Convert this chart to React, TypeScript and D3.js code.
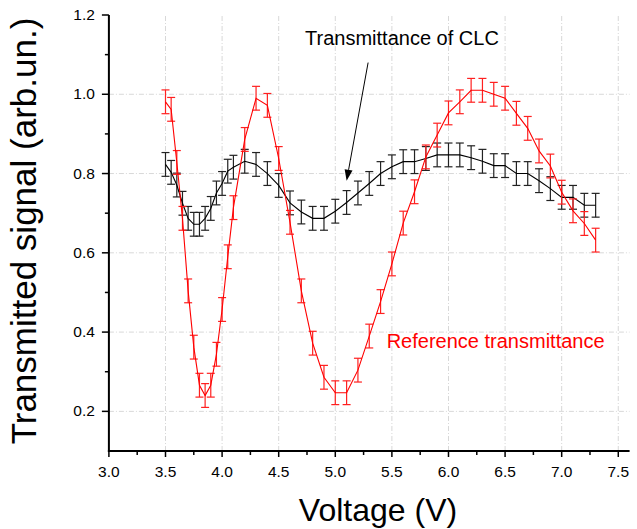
import React from "react";
import * as d3 from "d3";

const voltages = [
  3.5, 3.55, 3.6, 3.65, 3.7, 3.75, 3.8, 3.85, 3.9, 3.95, 4.0, 4.05, 4.1,
  4.2, 4.3, 4.4, 4.5, 4.6, 4.7, 4.8, 4.9, 5.0, 5.1, 5.2, 5.3, 5.4, 5.5,
  5.6, 5.7, 5.8, 5.9, 6.0, 6.1, 6.2, 6.3, 6.4, 6.5, 6.6, 6.7, 6.8, 6.9,
  7.0, 7.1, 7.2, 7.3,
];

const clcSignal = [
  0.823, 0.803, 0.771, 0.725, 0.687, 0.672, 0.672, 0.687, 0.712, 0.751, 0.775, 0.806, 0.816,
  0.831, 0.823, 0.8, 0.77, 0.726, 0.703, 0.687, 0.687, 0.705, 0.727, 0.751, 0.775, 0.8, 0.817,
  0.83, 0.83, 0.838, 0.847, 0.847, 0.847, 0.84, 0.831, 0.82, 0.82, 0.8, 0.8, 0.782, 0.762,
  0.74, 0.74, 0.72, 0.72,
];

const refSignal = [
  0.981, 0.962, 0.828, 0.687, 0.504, 0.362, 0.266, 0.24, 0.266, 0.344, 0.457, 0.59, 0.714,
  0.886, 0.99, 0.972, 0.838, 0.677, 0.504, 0.372, 0.286, 0.247, 0.247, 0.304, 0.39, 0.477, 0.572,
  0.675, 0.754, 0.842, 0.897, 0.953, 0.981, 1.01, 1.01, 1.0, 0.99, 0.952, 0.914, 0.857, 0.819,
  0.753, 0.706, 0.674, 0.632,
];

const clcError = 0.03;
const refError = 0.03;

const xMajorTicks = [3.0, 3.5, 4.0, 4.5, 5.0, 5.5, 6.0, 6.5, 7.0, 7.5];
const xMinorTicks = [3.25, 3.75, 4.25, 4.75, 5.25, 5.75, 6.25, 6.75, 7.25];
const yMajorTicks = [0.2, 0.4, 0.6, 0.8, 1.0, 1.2];
const yMinorTicks = [0.3, 0.5, 0.7, 0.9, 1.1];

const xLabel = "Voltage (V)";
const yLabel = "Transmitted signal (arb.un.)";
const clcLabel = "Transmittance of CLC";
const refLabel = "Reference transmittance";

const W = 637;
const H = 529;
const FONT = "'Liberation Sans', Arial, Helvetica, sans-serif";

export default function App() {
  const x = d3.scaleLinear().domain([3.0, 7.6]).range([108.9, 629.6]);
  const y = d3.scaleLinear().domain([0.1, 1.2]).range([451, 15]);
  const [x0, x1] = x.range();
  const [y0, y1] = y.range();

  const line = d3
    .line<number>()
    .x((_, i) => x(voltages[i]))
    .y((d) => y(d))
    .curve(d3.curveLinear);

  const renderSeries = (vals: number[], err: number, color: string, barColor: string) => (
    <g>
      {vals.map((v, i) => {
        const cx = x(voltages[i]);
        const top = y(v + err);
        const bot = y(v - err);
        return (
          <g key={i} stroke={barColor} strokeWidth={1.2} fill="none">
            <line x1={cx} x2={cx} y1={top} y2={bot} />
            <line x1={cx - 4} x2={cx + 4} y1={top} y2={top} />
            <line x1={cx - 4} x2={cx + 4} y1={bot} y2={bot} />
          </g>
        );
      })}
      <path d={line(vals) || ""} fill="none" stroke={color} strokeWidth={1.1} />
    </g>
  );

  const arrowStart: [number, number] = [5.29, 1.08];
  const arrowEnd: [number, number] = [5.1, 0.782];
  const ax1 = x(arrowStart[0]);
  const ay1 = y(arrowStart[1]);
  const ax2 = x(arrowEnd[0]);
  const ay2 = y(arrowEnd[1]);
  const ang = Math.atan2(ay2 - ay1, ax2 - ax1);
  const hl = 11;
  const hw = 4;
  const bx = ax2 - hl * Math.cos(ang);
  const by = ay2 - hl * Math.sin(ang);
  const px = -Math.sin(ang) * hw;
  const py = Math.cos(ang) * hw;

  return (
    <svg
      width={W}
      height={H}
      style={{ position: "absolute", left: 0, top: 0, background: "#fff" }}
      fontFamily={FONT}
    >
      <rect x={0} y={0} width={W} height={H} fill="#fff" />
      {/* grid */}
      <g stroke="#d8d8d8" strokeWidth={1} strokeDasharray="5,2,1,2">
        {xMajorTicks
          .filter((t) => t > 3.0)
          .map((t) => (
            <line key={"gx" + t} x1={x(t)} x2={x(t)} y1={y0} y2={y1} />
          ))}
        {yMajorTicks
          .filter((t) => t < 1.2)
          .map((t) => (
            <line key={"gy" + t} x1={x0} x2={x1} y1={y(t)} y2={y(t)} />
          ))}
      </g>

      {/* series */}
      {renderSeries(clcSignal, clcError, "#000", "#222")}
      {renderSeries(refSignal, refError, "#ff0000", "#ff2020")}

      {/* axes */}
      <g stroke="#000" strokeWidth={2}>
        <line x1={x0} x2={x0} y1={y0 + 1} y2={y1} />
        <line x1={x0 - 1} x2={x1} y1={y0} y2={y0} />
      </g>
      <g stroke="#000" strokeWidth={1.5}>
        {xMajorTicks.map((t) => (
          <line key={"xt" + t} x1={x(t)} x2={x(t)} y1={y0} y2={y0 + 6} />
        ))}
        {xMinorTicks.map((t) => (
          <line key={"xm" + t} x1={x(t)} x2={x(t)} y1={y0} y2={y0 + 4} />
        ))}
        {yMajorTicks.map((t) => (
          <line key={"yt" + t} x1={x0} x2={x0 - 7} y1={y(t)} y2={y(t)} />
        ))}
        {yMinorTicks.map((t) => (
          <line key={"ym" + t} x1={x0} x2={x0 - 4} y1={y(t)} y2={y(t)} />
        ))}
      </g>
      <g fontSize={15.5} fill="#000">
        {xMajorTicks.map((t) => (
          <text key={"xl" + t} x={x(t)} y={y0 + 26} textAnchor="middle">
            {t.toFixed(1)}
          </text>
        ))}
        {yMajorTicks.map((t) => (
          <text key={"yl" + t} x={x0 - 14} y={y(t) + 5} textAnchor="end">
            {t.toFixed(1)}
          </text>
        ))}
      </g>

      {/* axis titles */}
      <text x={378} y={521} textAnchor="middle" fontSize={32} fill="#000">
        {xLabel}
      </text>
      <text
        transform={`translate(36, 231) rotate(-90)`}
        textAnchor="middle"
        fontSize={35}
        fill="#000"
      >
        {yLabel}
      </text>

      {/* annotations */}
      <text x={x(4.733)} y={y(1.124)} fontSize={20} fill="#000">
        {clcLabel}
      </text>
      <text x={x(5.454)} y={y(0.36)} fontSize={20} fill="#ff0000">
        {refLabel}
      </text>
      <line x1={ax1} y1={ay1} x2={bx} y2={by} stroke="#000" strokeWidth={1} />
      <path
        d={`M${ax2},${ay2} L${bx + px},${by + py} L${bx - px},${by - py} Z`}
        fill="#000"
      />
    </svg>
  );
}
